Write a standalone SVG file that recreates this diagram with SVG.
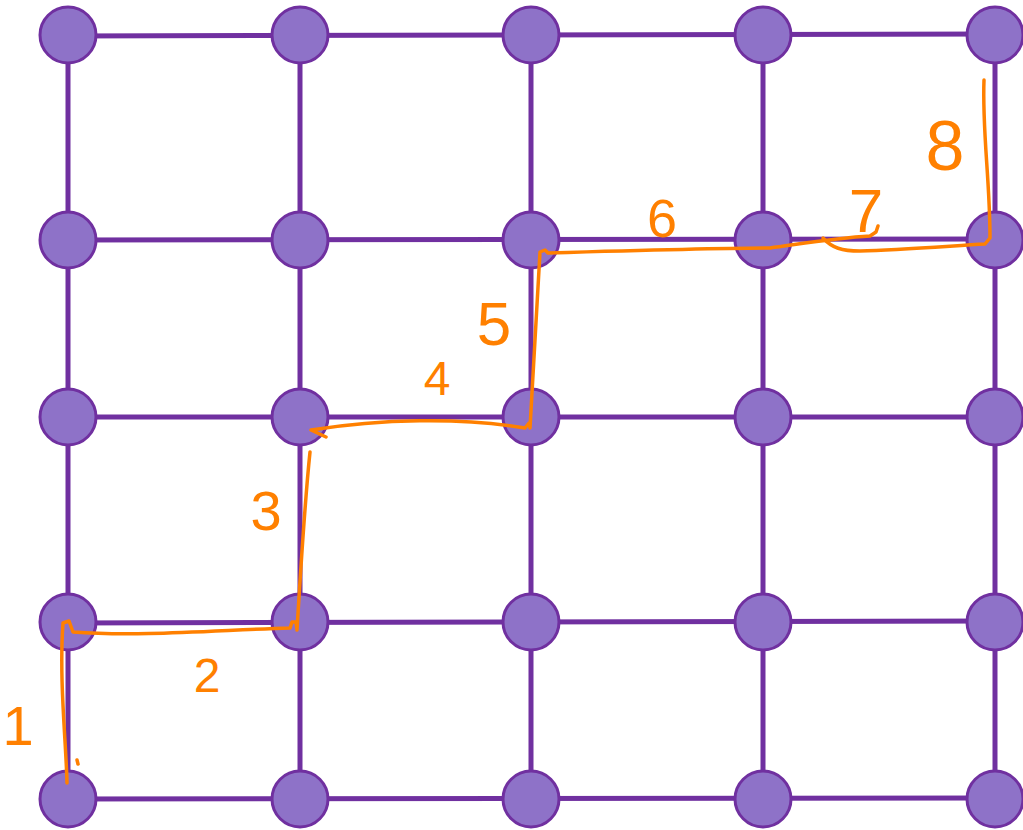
<svg xmlns="http://www.w3.org/2000/svg" width="1023" height="830" viewBox="0 0 1023 830">
<style>
.edge{stroke:#7030a0;stroke-width:5;fill:none}
.node{fill:#8e72c8;stroke:#7030a0;stroke-width:3}
.pen{stroke:#ff8000;stroke-width:3.5;fill:none;stroke-linecap:round;stroke-linejoin:round}
.num{fill:#ff8000;font-family:"Liberation Sans",Arial,sans-serif;text-anchor:middle}
</style>
<rect width="1023" height="830" fill="#ffffff"/>
<g id="connectors">
<line class="edge" x1="68" y1="36" x2="995" y2="34"/>
<line class="edge" x1="68" y1="240" x2="995" y2="239"/>
<line class="edge" x1="68" y1="417" x2="995" y2="417"/>
<line class="edge" x1="68" y1="623" x2="995" y2="621"/>
<line class="edge" x1="68" y1="799" x2="995" y2="798"/>
<line class="edge" x1="68" y1="35" x2="68" y2="799"/>
<line class="edge" x1="300" y1="35" x2="300" y2="799"/>
<line class="edge" x1="531" y1="35" x2="531" y2="799"/>
<line class="edge" x1="763" y1="35" x2="763" y2="799"/>
<line class="edge" x1="995" y1="35" x2="995" y2="799"/>
</g>
<g id="nodes">
<g id="n00"><circle class="node" cx="68" cy="35" r="28"/></g>
<g id="n01"><circle class="node" cx="300" cy="35" r="28"/></g>
<g id="n02"><circle class="node" cx="531" cy="35" r="28"/></g>
<g id="n03"><circle class="node" cx="763" cy="35" r="28"/></g>
<g id="n04"><circle class="node" cx="995" cy="35" r="28"/></g>
<g id="n10"><circle class="node" cx="68" cy="240" r="28"/></g>
<g id="n11"><circle class="node" cx="300" cy="240" r="28"/></g>
<g id="n12"><circle class="node" cx="531" cy="240" r="28"/></g>
<g id="n13"><circle class="node" cx="763" cy="240" r="28"/></g>
<g id="n14"><circle class="node" cx="995" cy="240" r="28"/></g>
<g id="n20"><circle class="node" cx="68" cy="417" r="28"/></g>
<g id="n21"><circle class="node" cx="300" cy="417" r="28"/></g>
<g id="n22"><circle class="node" cx="531" cy="417" r="28"/></g>
<g id="n23"><circle class="node" cx="763" cy="417" r="28"/></g>
<g id="n24"><circle class="node" cx="995" cy="417" r="28"/></g>
<g id="n30"><circle class="node" cx="68" cy="622" r="28"/></g>
<g id="n31"><circle class="node" cx="300" cy="622" r="28"/></g>
<g id="n32"><circle class="node" cx="531" cy="622" r="28"/></g>
<g id="n33"><circle class="node" cx="763" cy="622" r="28"/></g>
<g id="n34"><circle class="node" cx="995" cy="622" r="28"/></g>
<g id="n40"><circle class="node" cx="68" cy="799" r="28"/></g>
<g id="n41"><circle class="node" cx="300" cy="799" r="28"/></g>
<g id="n42"><circle class="node" cx="531" cy="799" r="28"/></g>
<g id="n43"><circle class="node" cx="763" cy="799" r="28"/></g>
<g id="n44"><circle class="node" cx="995" cy="799" r="28"/></g>
</g>
<g id="path">
<path class="pen" d="M67,783 C66,740 59,680 63,623 L69,621 L73,632 C140,637 220,630 290,628 L292,622 L296,622 L297,630 C300,580 305,500 310,452"/>
<path class="pen" d="M77,760 L78,764"/>
<path class="pen" d="M326,437 L311,430 C380,419 460,417 525,428 L529,423 L530,428 C533,380 537,300 540,252 L545,250 L548,253 C650,250 720,248 770,248 C800,244 835,238 870,236 L876,232 L878,226"/>
<path class="pen" d="M823,238 C832,248 842,251 860,251 C900,250 950,246 985,244 L990,238 C990,180 982,130 984,80"/>
</g>
<g id="labels">
<text class="num" x="18" y="745" font-size="56">1</text>
<text class="num" x="207" y="692" font-size="48">2</text>
<text class="num" x="266" y="530" font-size="56">3</text>
<text class="num" x="437" y="395" font-size="48">4</text>
<text class="num" x="494" y="345" font-size="62">5</text>
<text class="num" x="662" y="237" font-size="54">6</text>
<text class="num" x="866" y="232" font-size="62">7</text>
<text class="num" x="945" y="170" font-size="70">8</text>
</g>
</svg>
